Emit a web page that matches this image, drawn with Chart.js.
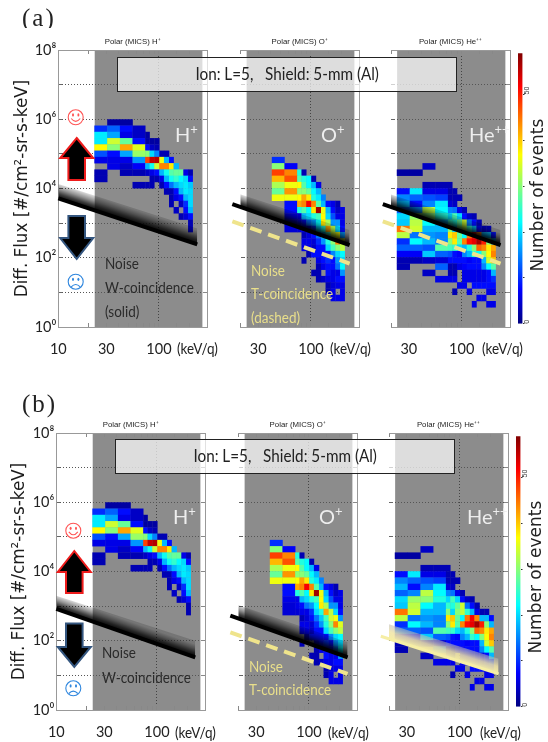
<!DOCTYPE html>
<html>
<head>
<meta charset="utf-8">
<script src="https://cdn.jsdelivr.net/npm/chart.js@4/dist/chart.umd.min.js"></script>
<style>
  body { margin: 0; background: #fff; }
  #page { position: relative; width: 548px; height: 742px; overflow: hidden; filter: blur(0.35px); }
  canvas { position: absolute; }
  .t { position: absolute; white-space: nowrap; font-family: Lato, sans-serif; }
  .ion { position: absolute; box-sizing: border-box; border: 1px solid #222; background: rgba(255,255,255,0.7);
         font: 16.5px Lato, sans-serif; color: #222; text-align: center; white-space: pre; }
  .ion span { display: inline-block; transform: scaleX(0.925); }
  .big { font-size: 20px; color: #eee; }
  .big sup { font-size: 13px; line-height: 0; }
  .dark, .pale, .unit { font-size: 15.5px; transform: scaleX(0.87); transform-origin: left center; }
  .dark { color: #2a2a2a; }
  .pale { color: #e9df8b; }
  .unit { color: #222; }
  .num { font: 17px 'DejaVu Sans', sans-serif; color: #222; transform: translate(-50%,-50%) rotate(-90deg); }
</style>
</head>
<body>
<div id="page">
  <div class="t" style="left:22px;top:0;height:28px;overflow:hidden;font:25px 'Liberation Serif',serif;letter-spacing:2px;line-height:36px;color:#222">(a)</div>
  <div class="t" style="left:22px;top:388px;font:25px 'Liberation Serif',serif;letter-spacing:2px;line-height:32px;color:#222">(b)</div>
</div>

<script>
// bin edges shared by every heat map
const energyEdges = [22.8, 30.6, 40.9, 54.6, 73, 80.6, 89.8, 100.7, 112, 125.8, 139.7, 156.8, 174.6, 194.5, 216];
const fluxEdges = [1e6, 659000, 434500, 286000, 188800, 124500, 82000, 54000, 35600, 23500, 15500, 10200, 6730,
  4440, 2920, 1930, 1270, 838, 552, 364, 240, 158, 104, 68.7, 45.3, 29.9, 19.7, 13, 8.55, 5.64, 3.72];

// number of events per cell, one line per flux bin from the top, 0 = empty
const hCounts = [
  [0,2,2],
  [10,13,8,4],
  [21,17,6,4,2],
  [21,34,28,8,2,2,2],
  [37,30,42,35,8,4,3],
  [12,8,17,31,30,20,15,3,3],
  [6,6,6,16,48,55,56,36,18,8],
  [0,6,4,7,18,23,34,44,44,38,18],
  [3,0,3,3,4,6,8,18,23,27,28,28,6,3],
  [3,0,0,0,0,3,3,6,18,23,25,22,20,8],
  [0,0,0,3,3,3,0,3,8,14,18,20,21,19],
  [0,0,0,0,0,0,0,0,3,3,8,18,21,20],
  [0,0,0,0,0,0,0,0,0,3,6,8,18,20],
  [0,0,0,0,0,0,0,0,0,3,0,4,10,20],
  [0,0,0,0,0,0,0,0,0,0,4,0,8,18],
  [0,0,0,0,0,0,0,0,0,0,0,3,5,8],
  [0,0,0,0,0,0,0,0,0,0,0,0,0,3],
  [0,0,0,0,0,0,0,0,0,0,0,0,0,3]
];
const oCounts = [
  [],[],[],[],[],[],
  [0,0,10],
  [0,0,30,7],
  [0,0,48,44,24,3],
  [0,0,41,47,27,24,22,3],
  [0,0,32,36,37,27,22,18,6],
  [0,0,28,43,30,30,28,22,18],
  [0,0,36,36,37,42,38,24,21,15],
  [0,0,0,8,42,44,52,44,27,18,8,6,3],
  [0,0,0,8,24,27,22,38,57,36,18,8,4,6],
  [0,0,0,6,6,18,20,24,26,37,20,12,6,6],
  [0,0,0,5,6,8,14,16,22,38,32,16,16,6],
  [0,0,0,5,5,6,6,10,20,24,42,33,20,8],
  [0,0,0,0,0,3,5,8,14,19,26,34,36,16],
  [0,0,0,0,0,6,6,5,10,16,24,30,44,35],
  [0,0,0,0,0,6,6,4,8,8,20,26,30,33],
  [0,0,0,0,0,0,3,8,8,8,8,15,20,22],
  [0,0,0,0,0,3,0,0,6,8,10,8,16,20],
  [0,0,0,0,0,0,0,0,3,6,8,8,14,22],
  [0,0,0,0,0,0,0,3,3,0,8,6,6,16],
  [0,0,0,0,0,0,0,0,3,4,6,6,8,8],
  [0,0,0,0,0,0,0,0,0,0,3,5,6,6],
  [0,0,0,0,0,0,0,0,0,0,3,6,0,6],
  [0,0,0,0,0,0,0,0,0,0,0,6,6,6]
];
const heCounts = [
  [],[],[],[],[],[],[],
  [0,0,4],
  [2,2],
  [],
  [0,0,3,3,3],
  [8,21,6,6,3,3],
  [15,13,12,11,3,3,3],
  [18,8,15,21,5,4],
  [13,15,33,22,15,14,6,3],
  [20,31,30,24,20,26,20,8,4,3],
  [19,33,22,18,25,24,28,34,14,8,3],
  [45,34,18,18,30,20,30,33,25,18,6,3,3],
  [33,14,16,15,38,40,28,22,45,52,44,18,18,8],
  [10,22,18,15,30,38,27,44,51,53,57,50,30,18],
  [13,13,12,27,26,25,20,18,24,30,46,44,38,42],
  [7,7,19,13,12,8,7,15,18,25,22,30,37,44],
  [3,3,4,5,8,8,8,8,7,8,8,18,34,40],
  [3,0,0,13,3,3,6,7,8,8,8,15,22,27],
  [0,0,4,0,3,3,0,6,6,6,6,6,8,18],
  [0,0,0,6,6,6,0,6,6,6,6,6,8,10],
  [0,0,0,0,0,0,6,6,0,8,8,8,8,8],
  [0,0,0,0,0,3,0,0,6,0,0,0,6,6],
  [0,0,0,0,0,0,0,0,0,0,6,6],
  [0,0,0,0,0,0,0,0,0,6,0,0,6,6]
];

// noise levels, flux at the two ends of each line
const hNoiseE = [10, 240];
const hNoiseLowA = [5200, 243];
const hNoiseTopA = [13400, 700];
const hNoiseLowB = [830, 33];
const hNoiseTopB = [2010, 100];
const sideNoiseE = [16.6, 242];
const sideNoiseLowA = [3540, 231];
const sideNoiseTopA = [8030, 628];
const sideDashA = [1120, 68];
const sideNoiseLowB = [531, 33];
const sideNoiseTopB = [1290, 90];
const sideDashB = [175, 11];
const heNoiseLowB = [135, 11];
const heNoiseTopB = [356, 30];

const grayBand = [23, 270];
const colorRange = [0, 59];
const colorTicks = [0, 10, 20, 30, 40, 50];
const yTicks = [1, 1e2, 1e4, 1e6, 1e8];
const yGrid = [1, 10, 1e2, 1e3, 1e4, 1e5, 1e6, 1e7, 1e8];
const supers = { 0: '⁰', 2: '²', 4: '⁴', 6: '⁶', 8: '⁸' };

function jet(t) {
  const f = k => Math.round(255 * Math.max(0, Math.min(1, 1.5 - Math.abs(4 * t - k))));
  return `rgb(${f(3)},${f(2)},${f(1)})`;
}

// gray background band drawn under the grid, cells drawn over it
const heatPlugin = {
  id: 'heat',
  beforeDraw(chart, args, opts) {
    const { ctx, chartArea, scales } = chart;
    ctx.fillStyle = '#8c8c8c';
    const x0 = scales.x.getPixelForValue(grayBand[0]);
    const x1 = scales.x.getPixelForValue(grayBand[1]);
    ctx.fillRect(x0, chartArea.top, x1 - x0, chartArea.bottom - chartArea.top);
  },
  beforeDatasetsDraw(chart, args, opts) {
    const { ctx, scales } = chart;
    opts.counts.forEach((row, r) => row.forEach((v, c) => {
      if (!v) return;
      const x0 = scales.x.getPixelForValue(energyEdges[c]);
      const x1 = scales.x.getPixelForValue(energyEdges[c + 1]);
      const y0 = scales.y.getPixelForValue(fluxEdges[r]);
      const y1 = scales.y.getPixelForValue(fluxEdges[r + 1]);
      ctx.fillStyle = jet(v / colorRange[1]);
      ctx.fillRect(x0, y0, x1 - x0 + 0.3, y1 - y0 + 0.3);
    }));
  }
};

function ends(es, fs) {
  return [{ x: es[0], y: fs[0] }, { x: es[1], y: fs[1] }];
}

function bandFill(es, low, top, stops) {
  return ctx => {
    const chart = ctx.chart;
    if (!chart.chartArea) return 'transparent';
    const px = (e, f) => [chart.scales.x.getPixelForValue(e), chart.scales.y.getPixelForValue(f)];
    const a = px(es[0], low[0]), b = px(es[1], low[1]), q = px(es[0], top[0]);
    const len = Math.hypot(b[0] - a[0], b[1] - a[1]);
    const n = [(b[1] - a[1]) / len, -(b[0] - a[0]) / len];
    const d = (q[0] - a[0]) * n[0] + (q[1] - a[1]) * n[1];
    const g = chart.ctx.createLinearGradient(a[0], a[1], a[0] + n[0] * d, a[1] + n[1] * d);
    stops.forEach((s, i) => g.addColorStop(i / (stops.length - 1), s));
    return g;
  };
}

function bandSets(es, low, top, lineColor, lineWidth, stops) {
  return [
    { data: ends(es, top), showLine: true, borderWidth: 0, pointRadius: 0, clip: false },
    { data: ends(es, low), showLine: true, pointRadius: 0, clip: false, fill: '-1',
      borderColor: lineColor, borderWidth: lineWidth, backgroundColor: bandFill(es, low, top, stops) }
  ];
}

function dashSet(es, fs) {
  return { data: ends(es, fs), showLine: true, pointRadius: 0, clip: false,
    borderColor: '#efe48c', borderWidth: 4, borderDash: [12, 7] };
}

const grayStops = ['rgba(0,0,0,1)', 'rgba(0,0,0,0.75)', 'rgba(0,0,0,0.42)', 'rgba(0,0,0,0.16)'];
const yellowStops = ['rgba(246,238,165,1)', 'rgba(240,228,165,0.85)', 'rgba(190,185,175,0.55)'];

function makePanel(p) {
  const mT = 16, mB = 36, mR = 8;
  const c = document.createElement('canvas');
  c.width = p.left0 + p.w + mR - p.canvasLeft;
  c.height = mT + p.h + mB;
  c.style.left = p.canvasLeft + 'px';
  c.style.top = (p.top - mT) + 'px';
  document.getElementById('page').appendChild(c);
  new Chart(c, {
    type: 'scatter',
    data: { datasets: p.sets },
    plugins: [heatPlugin],
    options: {
      responsive: false,
      animation: false,
      events: [],
      layout: { padding: 0 },
      plugins: { legend: { display: false }, tooltip: { enabled: false }, heat: { counts: p.counts } },
      scales: {
        x: {
          type: 'logarithmic', position: 'bottom', min: p.xMin, max: 300,
          afterFit: s => { s.height = mB; s.paddingLeft = 0; s.paddingRight = 0; },
          border: { color: '#999', dash: [1, 2] },
          grid: {
            tickLength: -4, tickColor: '#888', tickBorderDash: [],
            color: ctx => ctx.tick && ctx.tick.value === 100 ? '#444' : 'transparent'
          },
          ticks: {
            autoSkip: false, maxRotation: 0, minRotation: 0, padding: 18, color: '#222',
            font: { family: 'Lato', size: 14.5 },
            callback: v => (v === 10 || v === 30 || v === 100) ? String(v) : ''
          }
        },
        x2: {
          type: 'logarithmic', position: 'top', min: p.xMin, max: 300,
          afterFit: s => { s.height = mT; s.paddingLeft = 0; s.paddingRight = 0; },
          border: { color: '#999' },
          grid: { drawOnChartArea: false, tickLength: -4, tickColor: '#888' },
          ticks: { autoSkip: false, maxRotation: 0, minRotation: 0, callback: () => '' },
          title: {
            display: true, text: p.title, color: '#222', padding: { top: 3, bottom: 0 },
            font: { family: "'Liberation Sans Narrow', 'Liberation Sans'", size: 7.8 }
          }
        },
        y: {
          type: 'logarithmic', position: 'left', min: 1, max: 1e8,
          afterFit: s => { s.width = p.left0 - p.canvasLeft; },
          afterBuildTicks: s => { s.ticks = yGrid.map(v => ({ value: v })); },
          border: { display: p.labels, color: '#999', dash: [1, 2] },
          grid: { color: '#555', tickLength: -4, tickColor: '#666', tickBorderDash: [] },
          ticks: {
            display: p.labels, autoSkip: false, padding: 6, color: '#222',
            font: { family: 'Lato', size: 14.5 },
            callback: v => yTicks.includes(v) ? '10' + supers[Math.round(Math.log10(v))] : ''
          },
          title: {
            display: p.labels, text: 'Diff. Flux [#/cm²-sr-s-keV]', color: '#1c1c1c', padding: { top: p.titlePad || 0, bottom: 0 },
            font: { family: 'DejaVu Sans', size: 16.8 }
          }
        },
        y2: {
          type: 'logarithmic', position: 'right', min: 1, max: 1e8,
          afterFit: s => { s.width = mR; },
          afterBuildTicks: s => { s.ticks = yGrid.map(v => ({ value: v })); },
          border: { color: '#999' },
          grid: { drawOnChartArea: false, tickLength: -4, tickColor: '#888' },
          ticks: { display: false }
        }
      }
    }
  });
}

function makeColorbar(left, top, h) {
  const c = document.createElement('canvas');
  c.width = 26;
  c.height = h + 8;
  c.style.left = left + 'px';
  c.style.top = (top - 4) + 'px';
  document.getElementById('page').appendChild(c);
  new Chart(c, {
    type: 'bar',
    data: {
      labels: ['events'],
      datasets: [{
        data: [colorRange], barPercentage: 1, categoryPercentage: 1,
        backgroundColor: ctx => {
          const a = ctx.chart.chartArea;
          if (!a) return 'transparent';
          const g = ctx.chart.ctx.createLinearGradient(0, a.bottom, 0, a.top);
          for (let i = 0; i <= 16; i++) g.addColorStop(i / 16, jet(i / 16));
          return g;
        }
      }]
    },
    options: {
      responsive: false, animation: false, events: [],
      layout: { padding: { top: 4, bottom: 4 } },
      plugins: { legend: { display: false }, tooltip: { enabled: false } },
      scales: {
        x: { display: false },
        y: {
          position: 'right', min: colorRange[0], max: colorRange[1],
          afterFit: s => { s.width = 21.5; },
          afterBuildTicks: s => { s.ticks = colorTicks.map(v => ({ value: v })); },
          border: { display: false },
          grid: { drawOnChartArea: false, tickLength: 2, tickColor: '#333' },
          ticks: {
            autoSkip: false, padding: 3, color: '#333', minRotation: 90, maxRotation: 90,
            font: { family: 'Liberation Sans', size: 7 },
            callback: v => (v === 0 || v === 50) ? String(v) : ''
          }
        }
      }
    }
  });
}

// upper row (a)
makePanel({ left0: 58.3, top: 50, w: 148.7, h: 277, canvasLeft: 0, xMin: 10, labels: true, titlePad: 13,
  counts: hCounts, title: 'Polar (MICS) H⁺',
  sets: bandSets(hNoiseE, hNoiseLowA, hNoiseTopA, '#000', 4, grayStops) });
makePanel({ left0: 240.5, top: 50, w: 118.5, h: 277, canvasLeft: 220, xMin: 20, labels: false,
  counts: oCounts, title: 'Polar (MICS) O⁺',
  sets: [...bandSets(sideNoiseE, sideNoiseLowA, sideNoiseTopA, '#000', 4, grayStops), dashSet(sideNoiseE, sideDashA)] });
makePanel({ left0: 391, top: 50, w: 119.5, h: 277, canvasLeft: 372, xMin: 20, labels: false,
  counts: heCounts, title: 'Polar (MICS) He⁺⁺',
  sets: [...bandSets(sideNoiseE, sideNoiseLowA, sideNoiseTopA, '#000', 4, grayStops), dashSet(sideNoiseE, sideDashA)] });

// lower row (b)
makePanel({ left0: 56.3, top: 432.5, w: 148.7, h: 277.5, canvasLeft: 0, xMin: 10, labels: true, titlePad: 10,
  counts: hCounts, title: 'Polar (MICS) H⁺',
  sets: bandSets(hNoiseE, hNoiseLowB, hNoiseTopB, '#000', 4, grayStops) });
makePanel({ left0: 238.5, top: 432.5, w: 118.5, h: 277.5, canvasLeft: 218, xMin: 20, labels: false,
  counts: oCounts, title: 'Polar (MICS) O⁺',
  sets: [...bandSets(sideNoiseE, sideNoiseLowB, sideNoiseTopB, '#000', 4, grayStops), dashSet(sideNoiseE, sideDashB)] });
makePanel({ left0: 389, top: 432.5, w: 119.5, h: 277.5, canvasLeft: 370, xMin: 20, labels: false,
  counts: heCounts, title: 'Polar (MICS) He⁺⁺',
  sets: bandSets(sideNoiseE, heNoiseLowB, heNoiseTopB, '#f6eea5', 3, yellowStops) });

makeColorbar(517.5, 50, 277);
makeColorbar(515.5, 432.5, 277.5);

// text and pictograms laid over the charts
function upArrow(cx, tip, wing, bottom, hw, sw) {
  return `M${cx} ${tip}L${cx + hw} ${wing}L${cx + sw} ${wing}L${cx + sw} ${bottom}L${cx - sw} ${bottom}L${cx - sw} ${wing}L${cx - hw} ${wing}Z`;
}
function downArrow(cx, top, wing, tip, hw, sw) {
  return `M${cx - sw} ${top}L${cx + sw} ${top}L${cx + sw} ${wing}L${cx + hw} ${wing}L${cx} ${tip}L${cx - hw} ${wing}L${cx - sw} ${wing}Z`;
}
function smiley(cx, cy, color, happy) {
  const mouth = happy
    ? `M${cx - 4.5} ${cy + 1.2}Q${cx} ${cy + 7} ${cx + 4.5} ${cy + 1.2}`
    : `M${cx - 4.5} ${cy + 5.2}Q${cx} ${cy + 0.4} ${cx + 4.5} ${cy + 5.2}`;
  return `<circle cx="${cx}" cy="${cy}" r="7.5" fill="#fff" stroke="${color}" stroke-width="1.1"/>` +
    `<ellipse cx="${cx - 2.7}" cy="${cy - 2.4}" rx="1" ry="1.6" fill="${color}"/>` +
    `<ellipse cx="${cx + 2.7}" cy="${cy - 2.4}" rx="1" ry="1.6" fill="${color}"/>` +
    `<path d="${mouth}" fill="none" stroke="${color}" stroke-width="1.1"/>`;
}
const red = '#ee1c1c', navy = '#34567f';
const page = document.getElementById('page');
page.insertAdjacentHTML('beforeend', `
<svg width="548" height="742" style="position:absolute;left:0;top:0">
  <path d="${upArrow(76.7, 138, 158, 180, 16.5, 8.3)}" fill="#000" stroke="${red}" stroke-width="2"/>
  <path d="${downArrow(76.7, 216, 238, 259, 16.5, 8.3)}" fill="#000" stroke="${navy}" stroke-width="2"/>
  <path d="${upArrow(74.3, 551, 572, 593, 16.5, 8.3)}" fill="#000" stroke="${red}" stroke-width="2"/>
  <path d="${downArrow(74.3, 623.5, 647, 667, 16.5, 8.3)}" fill="#000" stroke="${navy}" stroke-width="2"/>
  ${smiley(75.7, 117.3, '#f55', true)}
  ${smiley(75.7, 281.7, '#2e86de', false)}
  ${smiley(73.3, 530.7, '#f55', true)}
  ${smiley(73.3, 688.3, '#2e86de', false)}
</svg>
<div class="ion" style="left:117px;top:56.5px;width:340px;height:35px;line-height:33px"><span>Ion: L=5,   Shield: 5-mm (Al)</span></div>
<div class="ion" style="left:115px;top:438.5px;width:340px;height:35px;line-height:33px"><span>Ion: L=5,   Shield: 5-mm (Al)</span></div>
<div class="t big" style="left:175px;top:122px">H<sup>+</sup></div>
<div class="t big" style="left:321px;top:122px">O<sup>+</sup></div>
<div class="t big" style="left:469px;top:122px">He<sup>++</sup></div>
<div class="t big" style="left:173px;top:504px">H<sup>+</sup></div>
<div class="t big" style="left:319px;top:504px">O<sup>+</sup></div>
<div class="t big" style="left:467px;top:504px">He<sup>++</sup></div>
<div class="t dark" style="left:105px;top:254px">Noise</div>
<div class="t dark" style="left:105px;top:277.5px">W-coincidence</div>
<div class="t dark" style="left:105px;top:302px">(solid)</div>
<div class="t pale" style="left:251px;top:261px">Noise</div>
<div class="t pale" style="left:251px;top:284px">T-coincidence</div>
<div class="t pale" style="left:251px;top:308px">(dashed)</div>
<div class="t dark" style="left:102px;top:643px">Noise</div>
<div class="t dark" style="left:102px;top:667.5px">W-coincidence</div>
<div class="t pale" style="left:249px;top:657px">Noise</div>
<div class="t pale" style="left:249px;top:680px">T-coincidence</div>
<div class="t unit" style="left:177px;top:339px">(keV/q)</div>
<div class="t unit" style="left:330px;top:339px">(keV/q)</div>
<div class="t unit" style="left:482px;top:339px">(keV/q)</div>
<div class="t unit" style="left:175px;top:723px">(keV/q)</div>
<div class="t unit" style="left:328px;top:723px">(keV/q)</div>
<div class="t unit" style="left:480px;top:723px">(keV/q)</div>
<div class="t num" style="left:537px;top:195px">Number of events</div>
<div class="t num" style="left:535px;top:576.5px">Number of events</div>
`);
</script>
</body>
</html>
